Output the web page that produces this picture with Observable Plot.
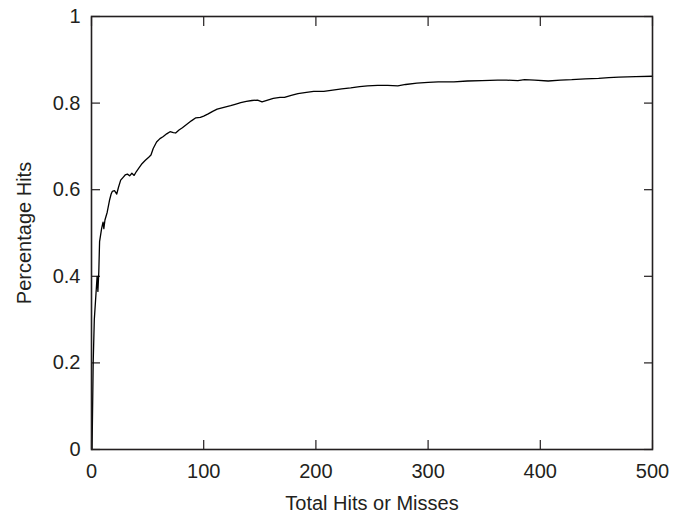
<!DOCTYPE html>
<html>
<head>
<meta charset="utf-8">
<script src="https://cdn.jsdelivr.net/npm/d3@7"></script>
<script src="https://cdn.jsdelivr.net/npm/@observablehq/plot@0.6"></script>
<style>
  html, body { margin: 0; padding: 0; background: #fff; }
  #chart svg { display: block; }
</style>
</head>
<body>
<div id="chart"></div>
<script>
// Total hits or misses (x) and running percentage of hits (y)
const totals = [0.5,1.5,2.5,4,5,5.7,6.5,7.2,9,10.3,11,12,14,16,17.5,18.5,20.5,22.5,24,26,28,30,32,34,36,38,40,42,45,48,51,53,55,58,61,64,67,70,73,75,78,81,85,89,93,97,100,104,108,112,118,124,128,133,138,143,148,152,157,162,168,172,178,184,190,198,207,215,223,231,239,246,255,264,273,280,290,300,309,323,335,348,362,370,380,386,395,407,418,428,440,452,461,470,485,500];
const hitRate = [0,0.2,0.3,0.36,0.4,0.365,0.41,0.48,0.51,0.525,0.51,0.53,0.548,0.575,0.59,0.596,0.598,0.59,0.605,0.622,0.628,0.634,0.636,0.632,0.638,0.633,0.642,0.649,0.66,0.668,0.675,0.68,0.695,0.71,0.718,0.723,0.729,0.734,0.732,0.731,0.738,0.743,0.751,0.759,0.766,0.767,0.77,0.775,0.781,0.786,0.79,0.794,0.797,0.801,0.804,0.806,0.807,0.803,0.807,0.811,0.813,0.813,0.818,0.822,0.824,0.827,0.827,0.83,0.833,0.835,0.838,0.84,0.841,0.841,0.84,0.843,0.846,0.848,0.849,0.849,0.851,0.852,0.853,0.853,0.852,0.854,0.853,0.851,0.853,0.854,0.856,0.857,0.859,0.86,0.861,0.862];

const xTicks = [0, 100, 200, 300, 400, 500];
const yTicks = [0, 0.2, 0.4, 0.6, 0.8, 1];
const yTickLabels = ["0", "0.2", "0.4", "0.6", "0.8", "1"];
const xLabel = "Total Hits or Misses";
const yLabel = "Percentage Hits";

const data = totals.map((t, i) => ({x: t, y: hitRate[i]}));
const ink = "#231f20";

const chart = Plot.plot({
  width: 683,
  height: 513,
  marginLeft: 91,
  marginRight: 31,
  marginTop: 16,
  marginBottom: 64,
  style: {fontFamily: "'Liberation Sans', Arial, sans-serif", fontSize: "20px", color: ink, background: "#fff"},
  x: {domain: [0, 500]},
  y: {domain: [0, 1]},
  marks: [
    // inward ticks, bottom & top
    Plot.axisX(xTicks, {anchor: "bottom", tickSize: -9, tickFormat: () => "", label: null, stroke: ink, strokeWidth: 1.2}),
    Plot.axisX(xTicks, {anchor: "top", tickSize: -9, tickFormat: () => "", label: null, stroke: ink, strokeWidth: 1.2}),
    Plot.axisY(yTicks, {anchor: "left", tickSize: -9, tickFormat: () => "", label: null, stroke: ink, strokeWidth: 1.2}),
    Plot.axisY(yTicks, {anchor: "right", tickSize: -9, tickFormat: () => "", label: null, stroke: ink, strokeWidth: 1.2}),
    // labels
    Plot.axisX(xTicks, {anchor: "bottom", tickSize: 0, tickPadding: 14, tickFormat: d => String(d),
      label: xLabel, labelAnchor: "center", labelArrow: "none", labelOffset: 60, fill: ink}),
    Plot.axisY(yTicks, {anchor: "left", tickSize: 0, tickPadding: 11, tickFormat: (d, i) => yTickLabels[i],
      label: yLabel, labelAnchor: "center", labelArrow: "none", labelOffset: 75, fill: ink}),
    Plot.line(data, {x: "x", y: "y", stroke: "#000", strokeWidth: 1.3}),
    Plot.frame({stroke: ink, strokeWidth: 1.6})
  ]
});

document.getElementById("chart").appendChild(chart);
</script>
</body>
</html>
